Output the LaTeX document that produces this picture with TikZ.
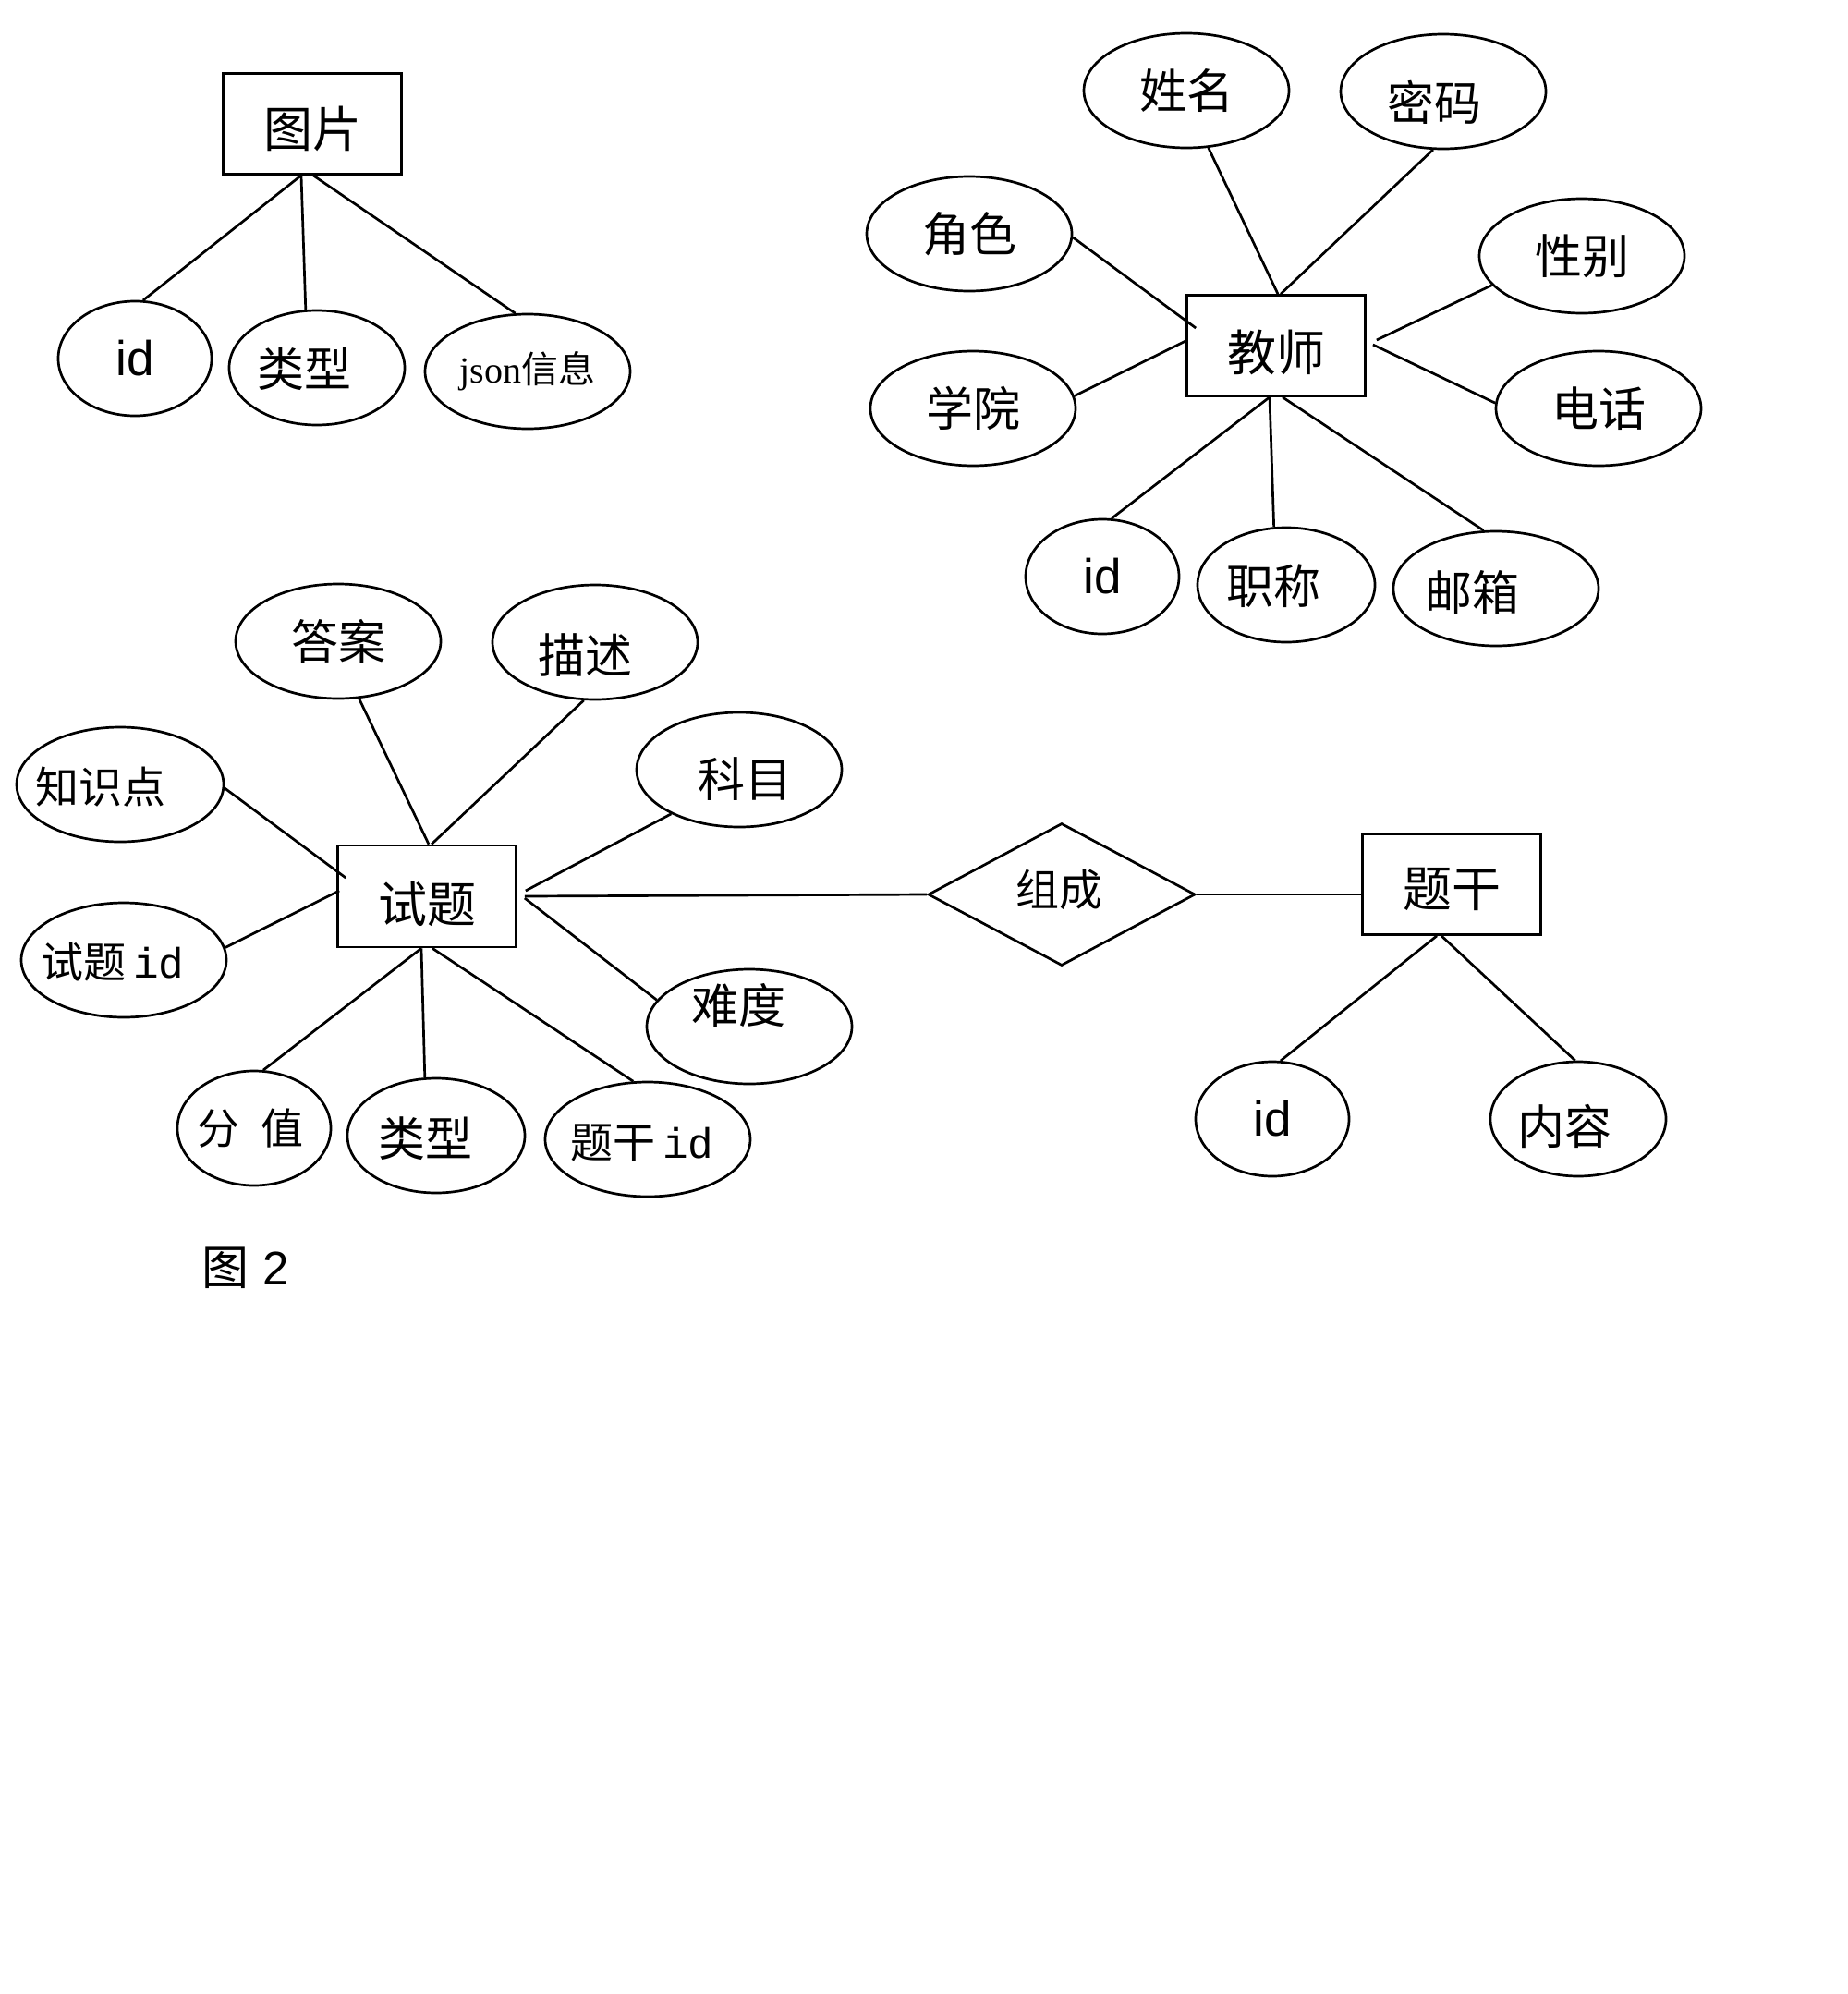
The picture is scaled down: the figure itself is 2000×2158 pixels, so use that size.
\documentclass[tikz,border=0pt]{standalone}
\usepackage{fontspec}
\setmainfont{Noto Sans CJK SC}
\newfontfamily\latsans{Liberation Sans}
\newfontfamily\latserif{Liberation Serif}
\newfontfamily\latmono{Liberation Mono}
\usetikzlibrary{shapes.geometric,calc}
% shifted text: #1 = horizontal shift (pt, right +), #2 = vertical shift (pt, down +)
\newcommand\shtext[3]{\hbox to 0pt{\hss\kern\dimexpr 2\dimexpr #1\relax\relax\raisebox{\dimexpr -0.38em-#2\relax}[0pt][0pt]{#3}\hss}}
\begin{document}
\begin{tikzpicture}[x=1pt,y=-1pt,line width=2.7pt,
  ent/.style={draw,rectangle,minimum width=193pt,minimum height=109pt,inner sep=0pt,font=\fontsize{53}{62}\selectfont},
  attr/.style={draw,ellipse,minimum width=222pt,minimum height=124pt,inner sep=0pt,font=\fontsize{51}{60}\selectfont},
  attrs/.style={attr,minimum width=166pt},
  attrm/.style={attr,minimum width=192pt},
  relbox/.style={draw,diamond,minimum width=289pt,minimum height=154pt,inner sep=0pt,font=\fontsize{47}{56}\selectfont},
  idtxt/.style={font=\latsans\fontsize{53}{60}\selectfont},
  link/.style={line width=2.7pt}]
\useasboundingbox[fill=white] (0,0) rectangle (2000,2158);

% ---------- 图片 ----------
\node[ent] (pic) at (338,134) {\shtext{0pt}{5pt}{图片}};
\node[attrs,idtxt] (pid) at (146,388) {id};
\node[attr,minimum width=190pt] (ptype) at (343,398) {\shtext{-14pt}{1pt}{类型}};
\node[attr,font=\fontsize{40}{48}\selectfont] (pjson) at (571,402) {{\latserif json}信息};
\draw[link] ($(pic.south)+(-12,0)$) -- (pid.82.6);
\draw[link] ($(pic.south)+(-12,0)$) -- (ptype.101.8);
\draw[link] ($(pic.south)+(1,0)$) -- (pjson.102.7);

% ---------- 教师 ----------
\node[ent] (teacher) at (1381,374) {\shtext{0pt}{7pt}{教师}};
\node[attr] (name) at (1284,98) {姓名};
\node[attr] (pwd) at (1562,99) {\shtext{-10pt}{12pt}{密码}};
\node[attr] (role) at (1049,253) {角色};
\node[attr] (sex) at (1712,277) {性别};
\node[attr] (college) at (1053,442) {学院};
\node[attr] (phone) at (1730,442) {电话};
\node[attrs,idtxt] (tid) at (1193,624) {id};
\node[attrm] (title) at (1392,633) {\shtext{-14pt}{1pt}{职称}};
\node[attr] (mail) at (1619,637) {\shtext{-26pt}{4pt}{邮箱}};
\draw[link] ($(teacher.north)+(2,0)$) -- (name.-69.4);
\draw[link] ($(teacher.north)+(5,0)$) -- (pwd.260.5);
\draw[link] ($(teacher.west)+(11,-19)$) -- (role.-2);
\draw[link] ($(teacher.west)+(2,-6)$) -- (college.7);
\draw[link] ($(teacher.east)+(11,-6)$) -- (sex.198);
\draw[link] ($(teacher.east)+(7,-1)$) -- (phone.177);
\draw[link] ($(teacher.south)+(-7,0)$) -- (tid.81.7);
\draw[link] ($(teacher.south)+(-7,0)$) -- (title.102.7);
\draw[link] ($(teacher.south)+(7,0)$) -- (mail.102.5);

% ---------- 试题 ----------
\node[ent,minimum height=110pt] (q) at (462,970) {\shtext{0pt}{8pt}{试题}};
\node[attr] (ans) at (366,694) {答案};
\node[attr] (desc) at (644,695) {\shtext{-11pt}{14pt}{描述}};
\node[attr,minimum width=224pt,font=\fontsize{47}{56}\selectfont] (kp) at (130,849) {\shtext{-21pt}{3pt}{知识点}};
\node[attr] (subj) at (800,833) {\shtext{6pt}{10pt}{科目}};
\node[attr,font=\fontsize{46}{56}\selectfont] (qid) at (134,1039) {\shtext{-12pt}{2pt}{试题\,{\latmono id}}};
\node[attr] (diff) at (811,1111) {\shtext{-12pt}{-23pt}{难度}};
\node[attrs,font=\fontsize{46}{56}\selectfont] (score) at (275,1221) {\shtext{-4pt}{0pt}{分\hspace{0.5em}值}};
\node[attrm] (qtype) at (472,1229) {\shtext{-12pt}{3pt}{类型}};
\node[attr,font=\fontsize{46}{56}\selectfont] (stemid) at (701,1233) {\shtext{-6pt}{3pt}{题干\,{\latmono id}}};
\draw[link] ($(q.north)+(2,0)$) -- (ans.-70);
\draw[link] ($(q.north)+(5,0)$) -- (desc.259.5);
\draw[link] ($(q.west)+(10,-20)$) -- (kp.-2);
\draw[link] ($(q.west)+(3,-6)$) -- (qid.7);
\draw[link] ($(q.east)+(9,-6)$) -- (subj.213);
\draw[link] ($(q.east)+(8,2)$) -- (diff.164);
\draw[link] ($(q.south)+(-6,0)$) -- (score.81.7);
\draw[link] ($(q.south)+(-6,0)$) -- (qtype.101);
\draw[link] ($(q.south)+(6,0)$) -- (stemid.104);

% ---------- 组成 / 题干 ----------
\node[relbox] (rel) at (1149,968) {\shtext{-3pt}{-5pt}{组成}};
\node[ent] (stem) at (1571,957) {\shtext{0pt}{4pt}{题干}};
\node[attrs,idtxt] (sid) at (1377,1211) {id};
\node[attr,minimum width=190pt] (content) at (1708,1211) {\shtext{-15pt}{8pt}{内容}};
\draw[link] ($(q.east)+(8,0)$) -- (rel.west);
\draw[link] (rel.east) -- (rel.east -| stem.west);
\draw[link] ($(stem.south)+(-16,0)$) -- (sid.82.6);
\draw[link] ($(stem.south)+(-11,0)$) -- (content.93.7);

% ---------- caption ----------
\node[anchor=west,inner sep=0pt,font=\fontsize{51}{60}\selectfont] (cap) at (217,1372) {图\hspace{0.3em}{\latsans 2}};
\end{tikzpicture}
\end{document}
